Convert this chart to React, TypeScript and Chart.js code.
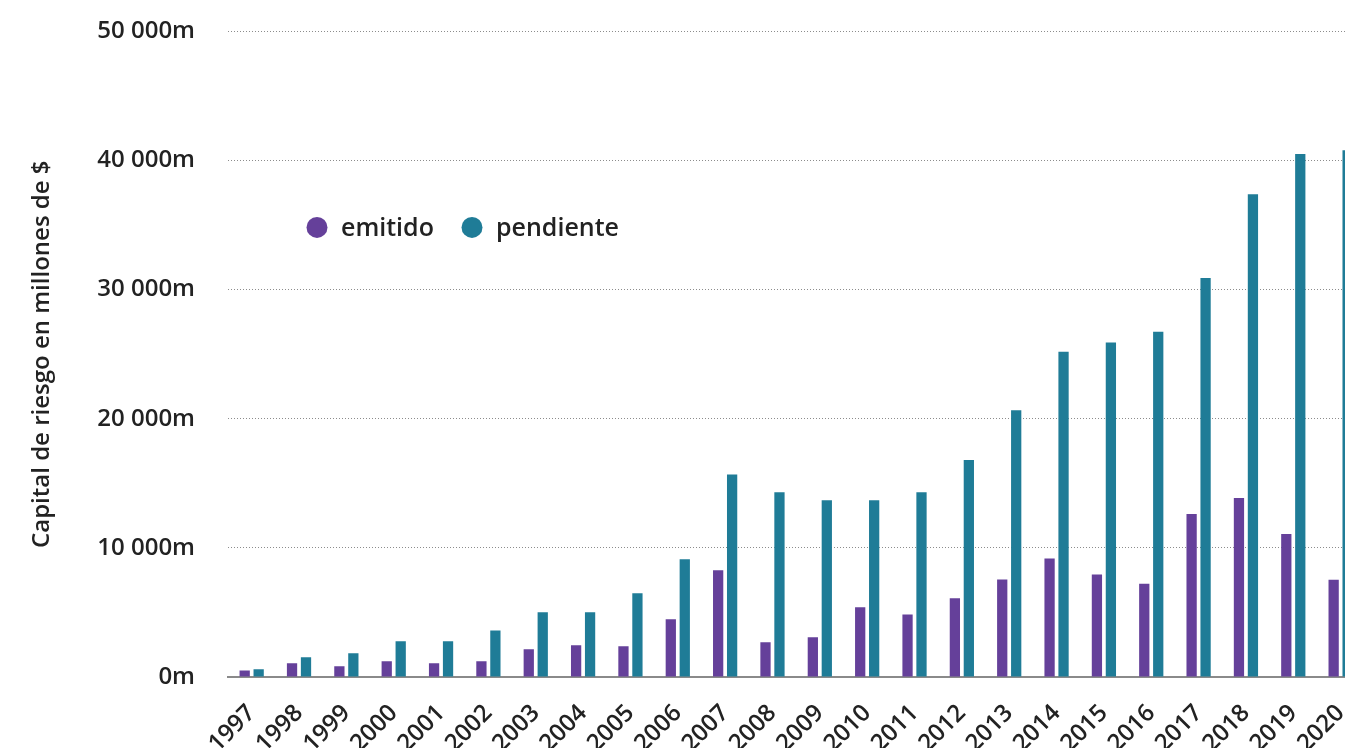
import React, { useEffect, useRef } from "react";
import { Chart, registerables } from "chart.js";

Chart.register(...registerables);

const years = [
  "1997", "1998", "1999", "2000", "2001", "2002", "2003", "2004", "2005", "2006", "2007", "2008",
  "2009", "2010", "2011", "2012", "2013", "2014", "2015", "2016", "2017", "2018", "2019", "2020",
];

const emitido = [
  500, 1060, 830, 1220, 1060, 1220, 2140, 2450, 2380, 4470, 8260, 2690,
  3070, 5400, 4850, 6090, 7550, 9170, 7930, 7220, 12620, 13860, 11080, 7530,
];

const pendiente = [
  600, 1520, 1830, 2760, 2760, 3610, 5010, 5010, 6480, 9110, 15690, 14300,
  13680, 13680, 14300, 16800, 20650, 25190, 25900, 26730, 30900, 37380, 40500, 40800,
];

const seriesNames = ["emitido", "pendiente"];
const seriesColors = ["#65409A", "#1F7C97"];
const yTicks = [0, 10000, 20000, 30000, 40000, 50000];
const yTitle = "Capital de riesgo en millones de $";

const FONT = "'Open Sans', 'Noto Sans', sans-serif";

function fmt(v: number): string {
  if (v === 0) return "0m";
  const s = String(Math.round(v));
  return s.replace(/\B(?=(\d{3})+(?!\d))/g, " ") + "m";
}

const legendPlugin = {
  id: "innerLegend",
  afterDraw(chart: any) {
    const { ctx, chartArea } = chart;
    const y = chartArea.top + 196;
    const items = [
      { x: chartArea.left + 89 },
      { x: chartArea.left + 244 },
    ];
    ctx.save();
    ctx.font = `600 25px ${FONT}`;
    ctx.textBaseline = "middle";
    ctx.textAlign = "left";
    items.forEach((it, i) => {
      ctx.beginPath();
      ctx.arc(it.x, y, 10.5, 0, Math.PI * 2);
      ctx.fillStyle = seriesColors[i];
      ctx.fill();
      ctx.fillStyle = "#222";
      ctx.fillText(seriesNames[i], it.x + 24, y + 1);
    });
    ctx.restore();
  },
};

export default function App() {
  const ref = useRef<HTMLCanvasElement | null>(null);

  useEffect(() => {
    if (!ref.current) return;
    const chart = new Chart(ref.current, {
      type: "bar",
      data: {
        labels: years,
        datasets: [
          {
            label: seriesNames[0],
            data: emitido,
            backgroundColor: seriesColors[0],
            categoryPercentage: 0.59,
            barPercentage: 0.735,
          },
          {
            label: seriesNames[1],
            data: pendiente,
            backgroundColor: seriesColors[1],
            categoryPercentage: 0.59,
            barPercentage: 0.735,
          },
        ],
      },
      options: {
        responsive: false,
        animation: false,
        devicePixelRatio: 1,
        layout: { padding: { top: 15, right: 0, bottom: 0, left: 0 } },
        plugins: {
          legend: { display: false },
          tooltip: { enabled: false },
        },
        scales: {
          x: {
            grid: { display: false },
            border: { display: true, color: "#8a8a8a", width: 2 },
            ticks: {
              color: "#222",
              font: { family: FONT, size: 24, weight: "600" },
              minRotation: 45,
              maxRotation: 45,
              autoSkip: false,
              padding: 14,
            },
            afterFit: (scale: any) => {
              scale.height = 93;
            },
          },
          y: {
            min: 0,
            max: 50000,
            afterBuildTicks: (scale: any) => {
              scale.ticks = yTicks.map((v) => ({ value: v }));
            },
            grid: {
              color: "#8c8c8c",
              lineWidth: 1,
              drawTicks: false,
            },
            border: { display: false, dash: [1, 2] },
            ticks: {
              color: "#222",
              font: { family: FONT, size: 24, weight: "600" },
              padding: 33,
              callback: (v: any) => fmt(Number(v)),
            },
            title: {
              display: true,
              text: yTitle,
              color: "#222",
              font: { family: FONT, size: 24, weight: "600" },
              padding: { top: 28, bottom: 0 },
            },
            afterFit: (scale: any) => {
              scale.width = 228;
            },
          },
        },
      },
      plugins: [legendPlugin],
    } as any);
    return () => chart.destroy();
  }, []);

  return (
    <div
      style={{
        position: "fixed",
        left: 0,
        top: 0,
        width: "1345px",
        height: "748px",
        overflow: "hidden",
        background: "#fff",
      }}
    >
      <canvas
        ref={ref}
        width={1375}
        height={786}
        style={{ display: "block", position: "absolute", left: 0, top: "-16px" }}
      />
    </div>
  );
}
